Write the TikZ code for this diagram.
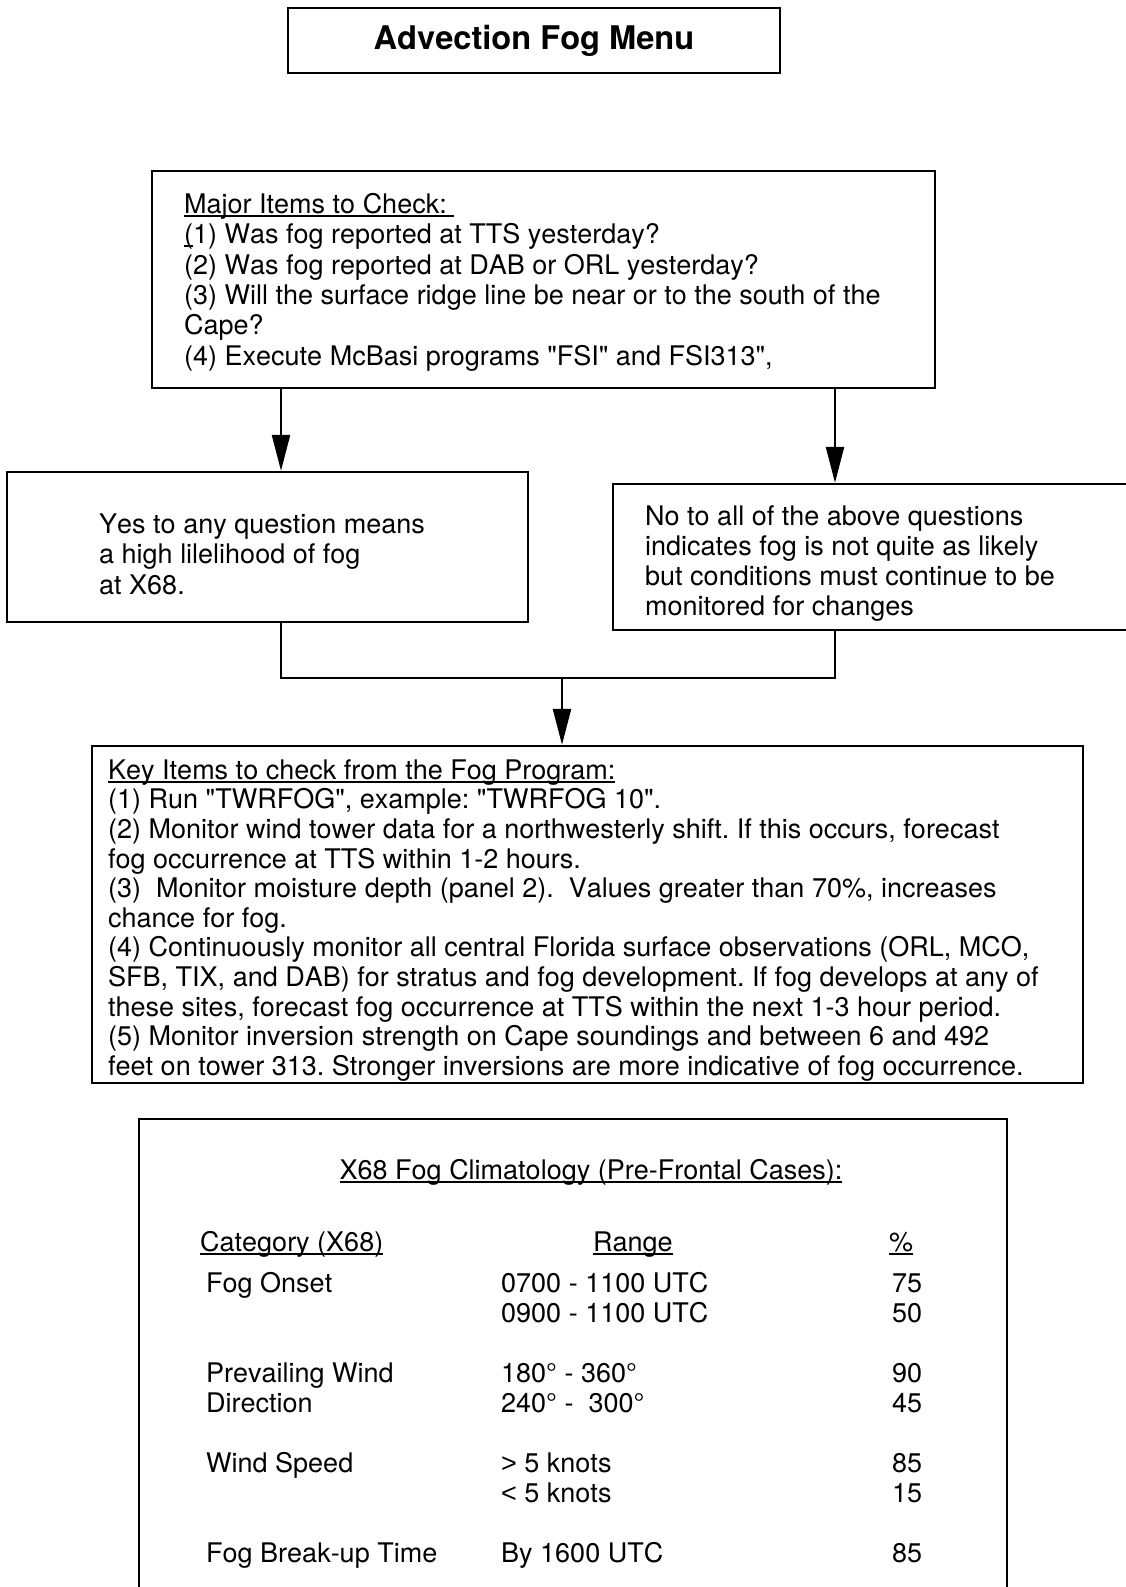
\documentclass[tikz,border=0pt]{standalone}
\usepackage{fontspec}
\newfontfamily\heros{TeX Gyre Heros}[Kerning=Off]
\newfontfamily\libsans{Liberation Sans}
\usetikzlibrary{arrows.meta}
\newlength\myullen
\newcommand\myul[1]{\settowidth{\myullen}{#1}\rlap{\rule[-3.5pt]{\myullen}{1.8pt}}#1}
\newcommand\mystrut{\rule{0pt}{22pt}}
\begin{document}
\heros\frenchspacing
\begin{tikzpicture}[x=1pt,y=-1pt,
  box/.style={draw,line width=2.4pt,rectangle,inner sep=0pt},
  txt/.style={anchor=north west,inner sep=0pt,align=left,font=\heros\fontsize{27}{30.4}\selectfont},
  cell/.style={anchor=base west,inner sep=0pt,font=\heros\fontsize{27}{30.4}\selectfont},
  conn/.style={line width=2.4pt},
  arr/.style={line width=2.4pt,-{Triangle[length=36pt,width=18pt]}}]
\clip (0,0) rectangle (1126,1587);
\fill[white] (0,0) rectangle (1126,1587);

% title
\node[box,minimum width=492pt,minimum height=65pt,font=\heros\bfseries\fontsize{32.6}{36}\selectfont] (title) at (534,40.5) {Advection Fog Menu};

% major items box
\node[box,minimum width=783pt,minimum height=217pt] (major) at (543.5,279.5) {};
\node[txt] (majortxt) at (184,191) {\mystrut\myul{Major Items to Check:\ }\\
\myul{(}1) Was fog reported at TTS yesterday?\\
(2) Was fog reported at DAB or ORL yesterday?\\
(3) Will the surface ridge line be near or to the south of the\\
Cape?\\
(4) Execute McBasi programs "FSI" and FSI313",};

% yes / no boxes
\node[box,minimum width=521pt,minimum height=150pt] (yes) at (267.5,547) {};
\node[txt] (yestxt) at (99,511) {\mystrut Yes to any question means\\
a high lilelihood of fog\\
at X68.};
\node[box,minimum width=527pt,minimum height=146pt] (no) at (876.5,557) {};
\node[txt,font=\heros\fontsize{27}{30}\selectfont] (notxt) at (645,503) {\mystrut No to all of the above questions\\
indicates fog is not quite as likely\\
but conditions must continue to be\\
monitored for changes};

\coordinate (a1) at (281,388);
\coordinate (a2) at (835,388);
\coordinate (j) at (562,678);
\draw[arr] (a1) -- (a1 |- yes.north);
\draw[arr] (a2) -- (a2 |- no.north);
\draw[conn] (a1 |- yes.south) |- (a2 |- j) -- (a2 |- no.south);

% key items box
\node[box,minimum width=991pt,minimum height=337pt] (key) at (587.5,914.5) {};
\draw[arr] (j) -- (j |- key.north);
\node[txt,font=\heros\fontsize{27}{29.6}\selectfont] (keytxt) at (108,757) {\mystrut\myul{Key Items to check from the Fog Program:}\\
(1) Run "TWRFOG", example: "TWRFOG 10".\\
(2) Monitor wind tower data for a northwesterly shift. If this occurs, forecast\\
fog occurrence at TTS within 1-2 hours.\\
(3)\ \ Monitor moisture depth (panel 2).\ \ Values greater than 70\%, increases\\
chance for fog.\\
(4) Continuously monitor all central Florida surface observations (ORL, MCO,\\
SFB, TIX, and DAB) for stratus and fog development. If fog develops at any of\\
these sites, forecast fog occurrence at TTS within the next 1-3 hour period.\\
(5) Monitor inversion strength on Cape soundings and between 6 and 492\\
feet on tower 313. Stronger inversions are more indicative of fog occurrence.};

% climatology box (runs off the page)
\coordinate (clbl) at (139,1610);
\coordinate (cltr) at (1007,1119);
\draw[conn] (clbl) |- (cltr) -- (cltr |- clbl);
\node[cell,anchor=base] (cltitle) at (591,1179) {\myul{X68 Fog Climatology (Pre-Frontal Cases):}};
\node[cell] (hcat) at (200,1251) {\myul{Category (X68)}};
\node[cell] (hrange) at (593,1251) {\myul{Range}};
\node[cell] (hpct) at (889,1251) {\myul{\%}};

\node[cell] (r1a) at (206,1292) {Fog Onset};
\node[cell] (r1b) at (501,1292) {0700 - 1100 UTC};
\node[cell] (r1c) at (892,1292) {75};
\node[cell] (r2b) at (501,1322) {0900 - 1100 UTC};
\node[cell] (r2c) at (892,1322) {50};

\node[cell] (r3a) at (206,1382) {Prevailing Wind};
\node[cell] (r3b) at (501,1382) {180° - 360°};
\node[cell] (r3c) at (892,1382) {90};
\node[cell] (r4a) at (206,1412) {Direction};
\node[cell] (r4b) at (501,1412) {240° -\ \ 300°};
\node[cell] (r4c) at (892,1412) {45};

\node[cell] (r5a) at (206,1472) {Wind Speed};
\node[cell] (r5b) at (501,1472) {{\libsans >} 5 knots};
\node[cell] (r5c) at (892,1472) {85};
\node[cell] (r6b) at (501,1502) {{\libsans <} 5 knots};
\node[cell] (r6c) at (892,1502) {15};

\node[cell] (r7a) at (206,1562) {Fog Break-up Time};
\node[cell] (r7b) at (501,1562) {By 1600 UTC};
\node[cell] (r7c) at (892,1562) {85};
\end{tikzpicture}
\end{document}
